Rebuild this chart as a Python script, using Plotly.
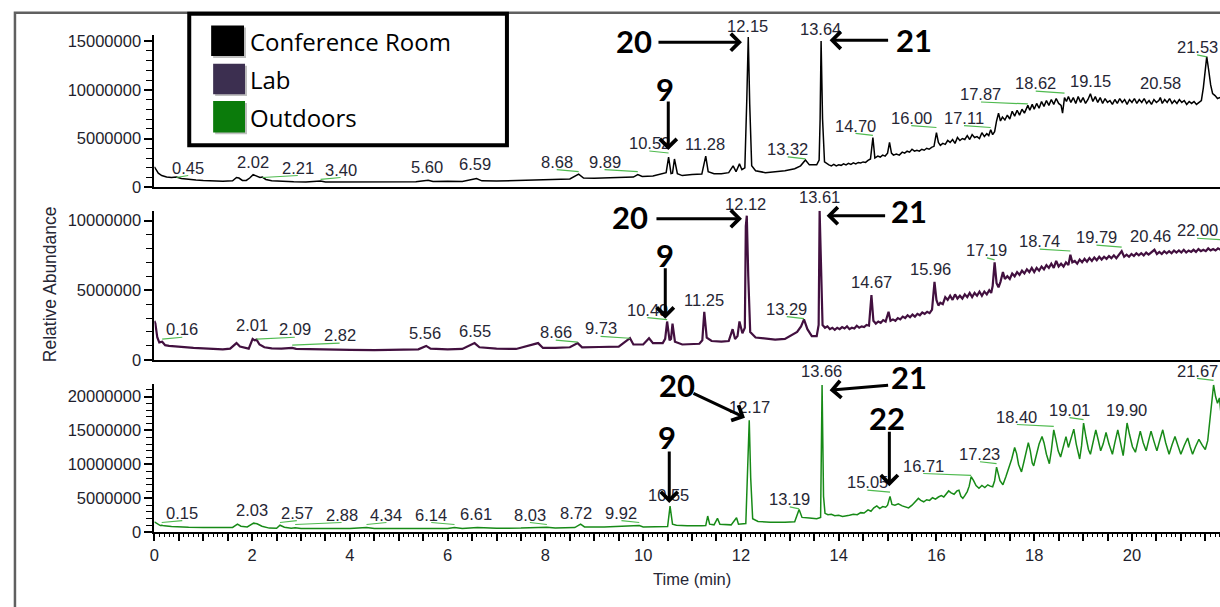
import plotly.graph_objects as go

W, H = 1220, 607

# ---------------------------------------------------------------- data
# Retention time (min) and relative abundance (millions of counts)
conf_time = [0.00, 0.03, 0.08, 0.15, 0.25, 0.35, 0.45, 0.55, 0.70, 0.85, 1.00, 1.20, 1.40, 1.60, 1.68, 1.73,
             1.80, 1.88, 1.95, 2.02, 2.10, 2.16, 2.21, 2.28, 2.40, 2.60, 2.85, 3.10, 3.30, 3.40, 3.50, 3.80,
             4.20, 4.60, 5.00, 5.35, 5.60, 5.70, 6.00, 6.30, 6.59, 6.70, 7.00, 7.40, 7.80, 8.20, 8.50, 8.68,
             8.78, 9.00, 9.30, 9.60, 9.80, 9.89, 9.98, 10.20, 10.38, 10.47, 10.52, 10.57, 10.60, 10.64, 10.70,
             10.80, 11.00, 11.20, 11.28, 11.33, 11.45, 11.60, 11.75, 11.84, 11.90, 11.97, 12.02, 12.08, 12.12,
             12.15, 12.18, 12.22, 12.30, 12.50, 12.70, 12.90, 13.10, 13.22, 13.32, 13.40, 13.55, 13.60, 13.62,
             13.64, 13.67, 13.71,
             13.80, 13.85, 13.90, 13.95, 14.00, 14.05, 14.10, 14.15, 14.20, 14.25, 14.30, 14.35, 14.40, 14.45,
             14.50, 14.55, 14.60, 14.65, 14.70, 14.74, 14.80, 14.85, 14.90, 14.95, 15.00, 15.04, 15.08, 15.12,
             15.18, 15.24, 15.30, 15.35, 15.40, 15.45, 15.50, 15.55, 15.60, 15.65, 15.70, 15.75, 15.80, 15.85,
             15.90, 15.95, 16.00, 16.04, 16.08, 16.13, 16.18, 16.23, 16.28, 16.33, 16.38, 16.43, 16.48, 16.53,
             16.58, 16.63, 16.68, 16.73, 16.78, 16.83, 16.88, 16.93, 16.98, 17.03, 17.07, 17.11, 17.15, 17.19,
             17.23, 17.27, 17.31, 17.35, 17.40, 17.45, 17.50, 17.55, 17.60, 17.65, 17.70, 17.75, 17.80, 17.84,
             17.87, 17.91, 17.96, 18.00, 18.05, 18.10, 18.15, 18.20, 18.25, 18.30, 18.35, 18.40, 18.45, 18.50,
             18.55, 18.58, 18.62, 18.66, 18.70, 18.75, 18.80, 18.85, 18.90, 18.95, 19.00, 19.05, 19.10, 19.15,
             19.20, 19.25, 19.30, 19.35, 19.40, 19.45, 19.50, 19.55, 19.60, 19.65, 19.70, 19.75, 19.80, 19.85,
             19.90, 19.95, 20.00, 20.05, 20.10, 20.15, 20.20, 20.25, 20.30, 20.35, 20.40, 20.45, 20.50, 20.55,
             20.58, 20.62, 20.67, 20.72, 20.77, 20.82, 20.87, 20.92, 20.97, 21.02, 21.07, 21.12, 21.17, 21.22,
             21.27, 21.32, 21.37, 21.42, 21.46, 21.50, 21.53, 21.57, 21.61, 21.65, 21.70, 21.75, 21.80, 21.85,
             21.90]
conf_abund = [2.10, 1.90, 1.45, 1.20, 1.05, 1.00, 1.05, 0.90, 0.80, 0.75, 0.70, 0.66, 0.62, 0.66, 1.00, 0.95,
              0.70, 0.70, 0.95, 1.30, 1.15, 1.00, 1.05, 0.80, 0.68, 0.60, 0.56, 0.55, 0.57, 0.65, 0.55, 0.56,
              0.55, 0.57, 0.58, 0.56, 0.72, 0.60, 0.62, 0.60, 0.90, 0.66, 0.64, 0.68, 0.75, 0.82, 0.85, 1.35,
              0.95, 0.92, 0.98, 1.00, 1.05, 1.30, 1.10, 1.15, 1.35, 1.50, 3.10, 1.40, 1.45, 2.90, 1.40,
              1.20, 1.30, 1.35, 3.20, 1.60, 1.40, 1.40, 1.50, 2.20, 1.60, 2.40, 1.80, 2.00, 9.00,
              15.40, 8.50, 2.20, 1.70, 1.50, 1.60, 1.70, 1.90, 2.20, 2.80, 2.30, 2.30, 2.80, 7.00,
              15.00, 7.00, 2.60,
              2.30, 2.20, 2.35, 2.20, 2.30, 2.25, 2.40, 2.30, 2.45, 2.35, 2.50, 2.40, 2.55, 2.50,
              2.60, 2.55, 2.75, 2.90, 5.10, 3.00, 3.20, 3.10, 3.30, 3.20, 3.50, 4.60, 3.50, 3.30,
              3.40, 3.30, 3.60, 3.50, 3.70, 3.60, 3.90, 3.70, 3.80, 3.70, 3.90, 3.80, 4.00, 3.90,
              4.10, 4.20, 5.60, 4.60, 4.30, 4.50, 4.40, 4.80, 4.60, 4.90, 4.50, 5.10, 4.80, 5.00,
              4.90, 5.30, 4.90, 5.40, 5.10, 5.20, 5.00, 5.60, 5.20, 5.50, 5.30, 5.90, 5.40, 5.70,
              6.80, 7.60, 6.80, 7.20, 6.90, 7.40, 7.00, 7.80, 7.30, 7.90, 7.40, 8.00, 7.60, 8.10,
              8.40, 7.90, 8.50, 8.00, 8.60, 8.10, 8.80, 8.30, 8.90, 8.40, 9.00, 8.50, 9.10, 8.60,
              8.40, 7.60, 9.20, 8.80, 9.30, 8.70, 9.20, 8.60, 9.30, 8.70, 9.20, 8.60, 9.00, 9.60,
              8.80, 9.30, 8.70, 9.20, 8.60, 9.10, 8.70, 8.90, 8.50, 9.00, 8.60, 9.10, 8.70, 9.00,
              8.50, 9.00, 8.70, 9.10, 8.60, 9.00, 8.70, 9.10, 8.60, 8.90, 8.50, 9.00, 8.70, 8.90,
              9.20, 8.60, 9.00, 8.70, 9.10, 8.60, 8.90, 8.60, 9.00, 8.70, 8.90, 8.50, 8.80, 8.60,
              8.80, 8.50, 8.70, 8.90, 10.20, 12.50, 13.40, 12.00, 10.50, 9.60, 9.40, 9.10, 9.20, 8.90,
              9.00]

lab_time = [0.00, 0.02, 0.06, 0.10, 0.16, 0.22, 0.30, 0.45, 0.60, 0.80, 1.00, 1.20, 1.40, 1.55, 1.68, 1.75,
            1.85, 1.93, 2.01, 2.05, 2.09, 2.15, 2.25, 2.40, 2.60, 2.82, 2.90, 3.20, 3.60, 4.00, 4.50, 5.00,
            5.40, 5.56, 5.65, 6.00, 6.30, 6.55, 6.65, 7.00, 7.40, 7.85, 7.95, 8.20, 8.50, 8.66, 8.75, 9.10,
            9.50, 9.73, 9.80, 10.00, 10.12, 10.20, 10.40, 10.45, 10.49, 10.54, 10.57, 10.60, 10.65, 10.80,
            11.00, 11.15, 11.21, 11.25, 11.30, 11.40, 11.60, 11.75, 11.83, 11.88, 11.93, 11.97, 12.03, 12.08,
            12.10, 12.12, 12.15, 12.19, 12.30, 12.50, 12.70, 12.90, 13.05, 13.15, 13.23, 13.29, 13.36, 13.45,
            13.55, 13.59, 13.61, 13.64,
            13.67, 13.72, 13.77, 13.82, 13.87, 13.92, 13.97, 14.02, 14.07, 14.12, 14.17, 14.22, 14.27, 14.32,
            14.37, 14.42, 14.47, 14.52, 14.57, 14.62, 14.67, 14.71, 14.76, 14.81, 14.86, 14.91, 14.96, 15.02,
            15.06, 15.11, 15.16, 15.21, 15.26, 15.31, 15.36, 15.41, 15.46, 15.51, 15.56, 15.61, 15.66, 15.71,
            15.76, 15.81, 15.86, 15.91, 15.96, 16.00, 16.04, 16.08, 16.13, 16.18, 16.23, 16.28, 16.33, 16.38,
            16.43, 16.48, 16.53, 16.58, 16.63, 16.68, 16.73, 16.78, 16.83, 16.88, 16.93, 16.98, 17.03, 17.08,
            17.12, 17.15, 17.19, 17.23, 17.27, 17.31, 17.36, 17.40, 17.45, 17.50, 17.55, 17.60, 17.65, 17.70,
            17.75, 17.80, 17.85, 17.90, 17.95, 18.00, 18.05, 18.10, 18.15, 18.20, 18.25, 18.30, 18.35, 18.40,
            18.45, 18.50, 18.55, 18.60, 18.65, 18.70, 18.74, 18.78, 18.83, 18.88, 18.93, 18.98, 19.03, 19.08,
            19.13, 19.18, 19.23, 19.28, 19.33, 19.38, 19.43, 19.48, 19.53, 19.58, 19.63, 19.68, 19.73, 19.79,
            19.84, 19.89, 19.94, 19.99, 20.04, 20.09, 20.14, 20.19, 20.24, 20.29, 20.34, 20.39, 20.46, 20.51,
            20.56, 20.61, 20.66, 20.71, 20.76, 20.81, 20.86, 20.91, 20.96, 21.01, 21.06, 21.11, 21.16, 21.21,
            21.26, 21.31, 21.36, 21.41, 21.46, 21.51, 21.56, 21.61, 21.66, 21.71, 21.76, 21.81, 21.86, 21.90]
lab_abund = [2.80, 2.60, 1.60, 1.25, 1.30, 1.05, 1.00, 0.95, 0.90, 0.85, 0.82, 0.80, 0.75, 0.80, 1.20, 0.95,
             0.85, 0.80, 1.50, 1.40, 1.45, 1.10, 0.90, 0.82, 0.80, 0.85, 0.78, 0.75, 0.72, 0.72, 0.70, 0.72,
             0.75, 1.00, 0.80, 0.75, 0.78, 1.20, 0.90, 0.80, 0.78, 1.20, 0.85, 0.85, 0.90, 1.20, 0.90, 0.92,
             0.95, 1.55, 1.10, 1.10, 1.55, 1.20, 1.20, 1.50, 2.75, 1.40, 1.50, 2.60, 1.30, 1.10,
             1.10, 1.15, 1.40, 3.45, 1.60, 1.35, 1.30, 1.35, 2.20, 1.50, 1.70, 2.75, 1.90, 2.30,
             9.60, 10.35, 6.00, 2.00, 1.60, 1.50, 1.45, 1.50, 1.80, 2.00, 2.40, 2.90, 2.20, 1.70,
             1.70, 2.50, 10.70, 6.00,
             2.50, 2.30, 2.40, 2.20, 2.30, 2.15, 2.30, 2.20, 2.35, 2.25, 2.40, 2.20, 2.30, 2.25,
             2.45, 2.30, 2.40, 2.35, 2.50, 2.45, 4.65, 2.80, 2.60, 2.75, 2.65, 2.85, 2.75, 3.45,
             2.80, 2.90, 2.80, 3.00, 2.90, 3.10, 3.00, 3.20, 3.05, 3.25, 3.10, 3.30, 3.20, 3.40,
             3.30, 3.45, 3.35, 3.60, 5.60, 4.30, 3.90, 4.10, 4.00, 4.50, 4.30, 4.60, 4.30, 4.70,
             4.40, 4.60, 4.40, 4.70, 4.50, 4.80, 4.50, 4.80, 4.60, 4.90, 4.60, 4.90, 4.70, 5.00,
             4.80, 5.30, 7.00, 5.50, 5.20, 5.60, 6.30, 5.80, 6.00, 5.80, 6.20, 6.00, 6.30, 6.10,
             6.40, 6.20, 6.50, 6.30, 6.60, 6.30, 6.60, 6.40, 6.70, 6.50, 6.80, 6.60, 6.90, 6.60,
             7.10, 6.70, 6.90, 6.70, 7.00, 6.80, 7.55, 7.00, 7.10, 6.90, 7.20, 7.00, 7.25, 7.05,
             7.30, 7.10, 7.35, 7.15, 7.40, 7.20, 7.40, 7.25, 7.45, 7.30, 7.50, 7.30, 7.50, 7.80,
             7.40, 7.55, 7.40, 7.60, 7.45, 7.65, 7.50, 7.65, 7.50, 7.70, 7.55, 7.70, 7.90, 7.60,
             7.75, 7.60, 7.80, 7.65, 7.80, 7.65, 7.85, 7.70, 7.85, 7.70, 7.90, 7.70, 7.85, 7.75,
             7.90, 7.75, 7.95, 7.80, 7.90, 7.80, 8.00, 7.85, 7.95, 7.85, 8.00, 7.90, 8.00, 7.90]

out_time = [0.00, 0.05, 0.12, 0.15, 0.20, 0.35, 0.50, 0.70, 1.00, 1.30, 1.60, 1.70, 1.77, 1.90, 2.03, 2.10,
            2.20, 2.35, 2.50, 2.57, 2.66, 2.80, 2.88, 3.00, 3.50, 4.00, 4.34, 4.50, 5.00, 5.50, 6.00, 6.14,
            6.30, 6.61, 7.00, 7.50, 8.03, 8.20, 8.60, 8.72, 8.80, 9.20, 9.60, 9.92, 10.00, 10.30, 10.50,
            10.55, 10.60, 10.68, 10.90, 11.20, 11.28, 11.32, 11.36, 11.45, 11.52, 11.57, 11.80, 11.91, 11.95,
            12.10, 12.14, 12.17, 12.20, 12.24, 12.35, 12.60, 12.90, 13.10, 13.19, 13.25, 13.40, 13.55, 13.63,
            13.66,
            13.69, 13.72, 13.78, 13.85, 13.92, 14.00, 14.08, 14.15, 14.22, 14.30, 14.38, 14.45, 14.52, 14.60,
            14.66, 14.72, 14.78, 14.84, 14.90, 14.96, 15.00, 15.05, 15.09, 15.15, 15.22, 15.30, 15.37, 15.43,
            15.50, 15.57, 15.63, 15.68, 15.74, 15.80, 15.86, 15.92, 15.98, 16.04, 16.10, 16.15, 16.20, 16.25,
            16.30, 16.36, 16.42, 16.46, 16.50, 16.54, 16.58, 16.63, 16.67, 16.71, 16.76, 16.81, 16.87, 16.93,
            16.99, 17.05, 17.10, 17.15, 17.19,
            17.23, 17.30, 17.36, 17.42, 17.48, 17.54, 17.60, 17.64, 17.68, 17.74, 17.79, 17.84, 17.88, 17.92,
            17.96, 17.99, 18.04, 18.10, 18.16, 18.20, 18.25, 18.31, 18.35, 18.40, 18.44, 18.49, 18.54, 18.59,
            18.65, 18.70, 18.75, 18.81, 18.86, 18.93, 18.97, 19.01, 19.06, 19.11, 19.15, 19.20, 19.26, 19.31,
            19.36, 19.41, 19.47, 19.53, 19.60, 19.65, 19.71, 19.76, 19.82, 19.86, 19.90, 19.95, 20.01, 20.07,
            20.12, 20.17, 20.23, 20.29, 20.34, 20.39, 20.45, 20.51, 20.57, 20.63, 20.69, 20.76, 20.82, 20.88,
            20.94, 21.00, 21.07, 21.14, 21.19, 21.24, 21.30, 21.37, 21.44, 21.50, 21.55, 21.59, 21.63, 21.67,
            21.71, 21.75, 21.79, 21.83, 21.90]
out_abund = [1.55, 1.30, 1.00, 1.05, 0.95, 0.85, 0.78, 0.75, 0.72, 0.70, 0.72, 1.20, 0.90, 0.80, 1.35, 1.25,
             0.90, 0.62, 0.60, 1.05, 0.75, 0.60, 0.68, 0.55, 0.55, 0.55, 0.70, 0.55, 0.55, 0.50, 0.55, 0.70,
             0.55, 0.70, 0.60, 0.62, 0.75, 0.65, 0.70, 1.20, 0.80, 0.80, 0.85, 1.00, 0.80, 0.80, 0.85,
             3.85, 1.20, 1.05, 0.95, 0.95, 1.00, 2.40, 1.20, 1.10, 2.05, 1.20, 1.10, 2.15, 1.20,
             1.30, 11.00, 16.50, 8.00, 2.00, 1.60, 1.50, 1.50, 1.55, 3.35, 2.20, 2.10, 2.00, 2.20,
             21.70,
             5.30, 2.80, 2.60, 2.65, 2.45, 2.50, 2.35, 2.40, 2.50, 2.65, 2.60, 2.90, 2.85, 3.30,
             3.10, 3.60, 3.90, 3.50, 3.80, 3.70, 4.00, 5.30, 4.10, 4.00, 4.20, 3.90, 3.70, 3.60,
             4.00, 4.60, 5.00, 4.70, 4.50, 4.80, 4.70, 5.10, 4.90, 5.20, 5.40, 5.20, 5.70, 6.10,
             5.80, 5.60, 6.10, 6.20, 5.30, 5.00, 5.40, 6.00, 6.80, 8.20, 7.60, 6.90, 6.50, 6.90,
             6.60, 7.00, 6.80, 6.70, 7.60,
             9.60, 7.60, 7.00, 8.20, 9.50, 10.80, 12.50, 11.60, 10.00, 8.90, 10.40, 12.20, 13.20, 12.00,
             10.20, 9.80, 11.20, 13.00, 14.10, 13.20, 11.50, 10.10, 12.00, 15.10, 13.80, 12.00, 11.10, 12.60,
             14.10, 12.50, 13.80, 15.20, 13.00, 10.80, 12.80, 16.10, 14.00, 12.20, 11.50, 13.20, 15.10, 13.60,
             12.00, 13.00, 14.70, 13.00, 11.50, 13.20, 15.10, 13.40, 11.30, 13.60, 16.10, 14.40, 12.60, 11.80,
             13.40, 14.90, 13.20, 12.00, 13.50, 14.90, 13.40, 12.00, 13.60, 15.10, 13.20, 11.50, 12.90, 14.10,
             12.80, 11.50, 12.80, 13.90, 12.60, 11.50, 12.60, 13.70, 12.80, 12.20, 13.50, 16.00, 18.50, 21.70,
             20.00, 19.00, 19.80, 16.80, 16.20]

# Retention times of the labelled peaks in each run
conf_peaks = [0.45, 2.02, 2.21, 3.40, 5.60, 6.59, 8.68, 9.89, 10.52, 11.28, 12.15, 13.32, 13.64, 14.70,
              16.00, 17.11, 17.87, 18.62, 19.15, 20.58, 21.53]
lab_peaks = [0.16, 2.01, 2.09, 2.82, 5.56, 6.55, 8.66, 9.73, 10.49, 11.25, 12.12, 13.29, 13.61, 14.67,
             15.96, 17.19, 18.74, 19.79, 20.46, 22.00]
out_peaks = [0.15, 2.03, 2.57, 2.88, 4.34, 6.14, 6.61, 8.03, 8.72, 9.92, 10.55, 12.17, 13.19, 13.66,
             15.05, 16.71, 17.23, 18.40, 19.01, 19.90, 21.67]

# Compound numbers marked with arrows
conf_compounds = ["20", "21", "9"]
lab_compounds = ["20", "21", "9"]
out_compounds = ["20", "21", "22", "9"]

series_names = ["Conference Room", "Lab", "Outdoors"]
tick_values_y = [[0, 5000000, 10000000, 15000000], [0, 5000000, 10000000],
                 [0, 5000000, 10000000, 15000000, 20000000]]
time_ticks = [0, 2, 4, 6, 8, 10, 12, 14, 16, 18, 20]

# ---------------------------------------------------------------- layout helpers
X_LEFT = 150            # pixel column of t = 0
PX_PER_MIN = 49.08
X_MAX = (W - X_LEFT) / PX_PER_MIN


def px(x, y):
    """pixel position -> paper coordinates"""
    return x / W, 1 - y / H


def tx(t):
    return X_LEFT + t * PX_PER_MIN


# panel geometry: top/bottom pixel rows and y-range top (millions)
panels = [
    dict(top=33, bottom=188, ymax=15.58, color="#000000", width=1.5,
         t=conf_time, v=conf_abund, peaks=conf_peaks),
    dict(top=212, bottom=364, ymax=10.70, color="#42103f", width=2.2,
         t=lab_time, v=lab_abund, peaks=lab_peaks),
    dict(top=389, bottom=540, ymax=21.80, color="#178a17", width=1.5,
         t=out_time, v=out_abund, peaks=out_peaks),
]

# label centres (pixels) for each peak label, per panel
label_xy = [
    [(184, 168), (249, 162), (294, 168), (337, 170), (424, 167), (472, 164), (554, 162), (602, 162),
     (647, 143), (703, 144), (746, 23), (786, 149), (819, 27), (854, 125), (910, 117), (963, 117),
     (980, 93), (1035, 82), (1090, 80), (1160, 82), (1197, 45)],
    [(178, 333), (248, 329), (291, 333), (336, 339), (422, 337), (472, 335), (553, 336), (598, 332),
     (645, 313), (702, 303), (744, 205), (785, 312), (818, 198), (870, 285), (929, 271), (986, 252),
     (1039, 243), (1096, 239), (1150, 238), (1197, 232)],
    [(178, 520), (248, 517), (293, 520), (338, 522), (383, 522), (428, 522), (473, 521), (527, 522),
     (573, 520), (619, 520), (666, 502), (748, 412), (788, 506), (820, 375), (866, 489), (922, 472),
     (979, 460), (1016, 422), (1069, 415), (1126, 415), (1197, 375)],
]

# compound number text centres and arrows (tip pixel, tail offset)
compound_layout = [
    [((632, 39), (740, 40), (-85, 0)), ((913, 38), (828, 38), (60, 0)), ((663, 88), (666, 150), (0, -50))],
    [((628, 218), (740, 220), (-87, 0)), ((908, 212), (825, 217), (60, 0)), ((663, 257), (663, 322), (0, -52))],
    [((675, 390), (743, 423), (-53, -25)), ((908, 382), (828, 395), (60, -5)),
     ((886, 423), (888, 493), (0, -56)), ((665, 443), (667, 510), (0, -53))],
]
compounds = [conf_compounds, lab_compounds, out_compounds]

TICK_FONT = dict(family="Liberation Sans", size=16.5, color="#1e1e2c")

fig = go.Figure()
layout = dict(
    width=W, height=H, margin=dict(l=0, r=0, t=0, b=0),
    paper_bgcolor="white", plot_bgcolor="white", showlegend=False,
)

shapes = []
annotations = []

for i, p in enumerate(panels):
    n = "" if i == 0 else str(i + 1)
    fig.add_trace(go.Scatter(
        x=p["t"], y=[v * 1e6 for v in p["v"]], mode="lines",
        name=series_names[i], xaxis="x" + n, yaxis="y" + n,
        line=dict(color=p["color"], width=p["width"]), hoverinfo="skip",
    ))
    y0p = 1 - p["bottom"] / H
    y1p = 1 - p["top"] / H
    last = i == len(panels) - 1
    xa = dict(
        domain=[X_LEFT / W, 1], range=[0, X_MAX], anchor="y" + n,
        showline=True, linecolor="black", linewidth=2, showgrid=False, zeroline=False,
    )
    if last:
        halves = [k * 0.5 for k in range(0, 44)]
        xa.update(
            tickmode="array", tickvals=halves,
            ticktext=[str(int(h)) if (h in time_ticks) else "" for h in halves],
            ticks="outside", ticklen=7, tickwidth=1.5, tickcolor="black",
            tickfont=dict(family="Liberation Sans", size=16.5, color="#1e1e2c"),
            minor=dict(tickmode="linear", tick0=0, dtick=0.1, ticks="outside",
                       ticklen=3, tickwidth=1, tickcolor="black"),
        )
    else:
        xa.update(showticklabels=False, ticks="")
    ya = dict(
        domain=[y0p, y1p], range=[0, p["ymax"] * 1e6], anchor="x" + n,
        showline=True, linecolor="black", linewidth=2, showgrid=False, zeroline=False,
        tickmode="array", tickvals=tick_values_y[i], tickformat="d",
        ticks="outside", ticklen=8, tickwidth=1.5, tickcolor="black", tickfont=TICK_FONT,
        minor=dict(tickmode="linear", tick0=0, dtick=1e6, ticks="outside",
                   ticklen=6, tickwidth=1, tickcolor="black"),
    )
    layout["xaxis" + n] = xa
    layout["yaxis" + n] = ya

    # retention-time labels with green leader lines
    for rt, (lx, ly) in zip(p["peaks"], label_xy[i]):
        xp, yp = px(lx, ly)
        annotations.append(dict(
            x=xp, y=yp, xref="paper", yref="paper", text=f"{rt:.2f}", showarrow=False,
            xanchor="center", yanchor="middle",
            font=dict(family="Liberation Sans", size=16.5, color="#262634"),
        ))
        rx = tx(rt)
        if abs(rx - lx) > 5:
            a = px(lx, ly + 8)
            b = px(rx, ly + 10)
            shapes.append(dict(type="line", xref="paper", yref="paper",
                               x0=a[0], y0=a[1], x1=b[0], y1=b[1],
                               line=dict(color="#4fba4f", width=1.2)))

    # compound numbers with arrows
    for label, (txy, tip, off) in zip(compounds[i], compound_layout[i]):
        xp, yp = px(*txy)
        annotations.append(dict(
            x=xp, y=yp, xref="paper", yref="paper", text=f"<b>{label}</b>", showarrow=False,
            xanchor="center", yanchor="middle",
            font=dict(family="Lato", size=31, color="black"),
        ))
        xp, yp = px(*tip)
        annotations.append(dict(
            x=xp, y=yp, xref="paper", yref="paper", text="", showarrow=True,
            ax=off[0], ay=off[1], axref="pixel", ayref="pixel",
            arrowhead=4, arrowsize=1.1, arrowwidth=3, arrowcolor="black", standoff=0,
        ))

# outer frame
a = px(10, 10)
b = px(W + 20, H + 20)
shapes.append(dict(type="rect", xref="paper", yref="paper", x0=a[0], y0=b[1], x1=b[0], y1=a[1],
                   line=dict(color="#606060", width=2.5), fillcolor="rgba(0,0,0,0)", layer="below"))

# legend box
a = px(185, 11)
b = px(504, 145)
shapes.append(dict(type="rect", xref="paper", yref="paper", x0=a[0], y0=b[1], x1=b[0], y1=a[1],
                   line=dict(color="black", width=4), fillcolor="white", layer="above"))
legend_rows = [((207, 23, 240, 54), "#000000", 39),
               ((209, 62, 241, 93), "#3c2f50", 78),
               ((209, 100, 241, 132), "#0b7b0b", 117)]
for name, ((x0, y0, x1, y1), col, ty) in zip(series_names, legend_rows):
    s0 = px(x0 + 2, y0 + 2)
    s1 = px(x1 + 2, y1 + 2)
    shapes.append(dict(type="rect", xref="paper", yref="paper", x0=s0[0], y0=s1[1], x1=s1[0], y1=s0[1],
                       line=dict(width=0), fillcolor="rgba(0,0,0,0.25)", layer="above"))
    c0 = px(x0, y0)
    c1 = px(x1, y1)
    shapes.append(dict(type="rect", xref="paper", yref="paper", x0=c0[0], y0=c1[1], x1=c1[0], y1=c0[1],
                       line=dict(width=0), fillcolor=col, layer="above"))
    xp, yp = px(244, ty)
    annotations.append(dict(x=xp, y=yp, xref="paper", yref="paper", text=name, showarrow=False,
                            xanchor="left", yanchor="middle",
                            font=dict(family="Open Sans", size=24, color="black")))

# axis titles
xp, yp = px(46, 287)
annotations.append(dict(x=xp, y=yp, xref="paper", yref="paper", text="Relative Abundance",
                        showarrow=False, textangle=-90, xanchor="center", yanchor="middle",
                        font=dict(family="Liberation Sans", size=17.5, color="#262634")))
xp, yp = px(690, 588)
annotations.append(dict(x=xp, y=yp, xref="paper", yref="paper", text="Time (min)",
                        showarrow=False, xanchor="center", yanchor="middle",
                        font=dict(family="Liberation Sans", size=16.5, color="#262634")))

layout["shapes"] = shapes
layout["annotations"] = annotations
fig.update_layout(**layout)
fig.write_html("out.html")
